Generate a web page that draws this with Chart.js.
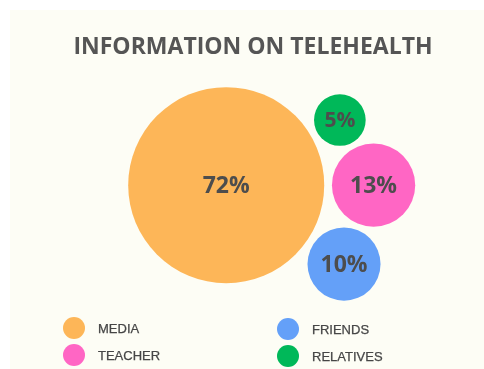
<!DOCTYPE html>
<html>
<head>
<meta charset="utf-8">
<script src="https://cdn.jsdelivr.net/npm/chart.js@4"></script>
<style>
  html, body { margin: 0; padding: 0; background: #ffffff; }
  body { width: 484px; height: 369px; position: relative; overflow: hidden; }
  #panel { position: absolute; left: 10px; top: 10px; width: 474px; height: 359px; background: #fdfdf5; }
  #chart { position: absolute; left: 0; top: 0; }
  #legend { position: absolute; left: 0; top: 0; width: 474px; height: 359px; pointer-events: none; }
  .item { position: absolute; display: flex; align-items: center; font-family: "Liberation Sans", Arial, sans-serif; font-size: 13px; color: #464646; -webkit-text-stroke: 0.25px #464646; }
  .dot { width: 22px; height: 22px; border-radius: 50%; margin-right: 13px; }
</style>
</head>
<body>
<div id="panel">
  <canvas id="chart" width="474" height="359"></canvas>
  <div id="legend"></div>
</div>
<script>
// Share of people getting telehealth information from each source
const categories = ['MEDIA', 'TEACHER', 'FRIENDS', 'RELATIVES'];
const shares = [72, 13, 10, 5];
const colors = ['#fdb658', '#ff66c4', '#64a0f8', '#00b859'];
// Packed-bubble layout centres (in layout units of the hidden axes)
const layoutX = [44.2, 76.1, 69.7, 68.8];
const layoutY = [61.0, 61.0, 34.8, 82.6];

const PX_PER_ROOT = 11.55; // bubble area proportional to share

const datasets = categories.map((name, i) => ({
  label: name,
  data: [{ x: layoutX[i], y: layoutY[i], v: shares[i] }],
  backgroundColor: colors[i],
  hoverBackgroundColor: colors[i],
  borderWidth: 0,
  hoverBorderWidth: 0,
  radius: ctx => PX_PER_ROOT * Math.sqrt(ctx.raw.v),
  hoverRadius: 0,
  clip: false
}));

// Writes the share inside each bubble
const bubbleLabels = {
  id: 'bubbleLabels',
  afterDatasetsDraw(chart) {
    const c = chart.ctx;
    c.save();
    c.fillStyle = '#4d4d4d';
    c.textAlign = 'center';
    c.textBaseline = 'middle';
    chart.data.datasets.forEach((ds, i) => {
      const el = chart.getDatasetMeta(i).data[0];
      const v = ds.data[0].v;
      c.font = 'bold ' + (v < 8 ? 21 : 23) + 'px "Open Sans", sans-serif';
      c.fillText(v + '%', el.x, el.y + 1);
    });
    c.restore();
  }
};

const chart = new Chart(document.getElementById('chart'), {
  type: 'bubble',
  data: { datasets },
  options: {
    responsive: false,
    animation: false,
    events: [],
    layout: { autoPadding: false, padding: { left: 12, right: 0, top: 0, bottom: 0 } },
    scales: {
      x: { display: false, min: 0, max: 100 },
      y: { display: false, min: 0, max: 100 }
    },
    plugins: {
      legend: { display: false },
      tooltip: { enabled: false },
      title: {
        display: true,
        text: 'INFORMATION ON TELEHEALTH',
        color: '#555555',
        font: { family: '"Open Sans", sans-serif', size: 23, weight: 'bold', lineHeight: 1.2 },
        padding: { top: 24, bottom: 6 }
      }
    }
  },
  plugins: [bubbleLabels]
});

// Two-column legend built from the chart's own legend items
const legendPos = [[53, 307], [53, 334], [267, 308], [267, 335]];
const legendEl = document.getElementById('legend');
chart.options.plugins.legend.labels.generateLabels(chart).forEach((item, i) => {
  const div = document.createElement('div');
  div.className = 'item';
  div.style.left = legendPos[i][0] + 'px';
  div.style.top = legendPos[i][1] + 'px';
  const dot = document.createElement('span');
  dot.className = 'dot';
  dot.style.background = item.fillStyle;
  const txt = document.createElement('span');
  txt.textContent = item.text;
  div.appendChild(dot);
  div.appendChild(txt);
  legendEl.appendChild(div);
});
</script>
</body>
</html>
